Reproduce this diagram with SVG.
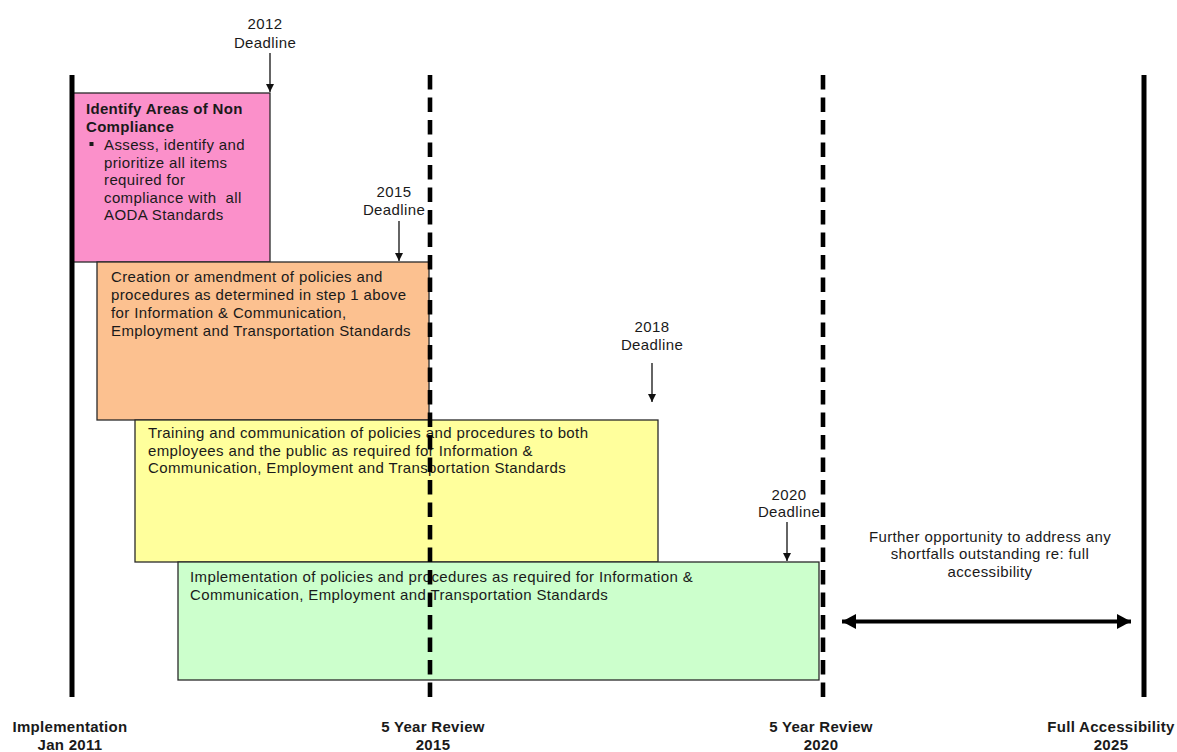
<svg xmlns="http://www.w3.org/2000/svg" width="1177" height="752" viewBox="0 0 1177 752">
<style>
  text { font-family: "Liberation Sans", Arial, sans-serif; font-size: 15px; fill: #1a1a1a; letter-spacing: 0.38px; }
  .b { font-weight: bold; letter-spacing: 0.3px; }
  .c { text-anchor: middle; }
  .box { stroke: #2a2a2a; stroke-width: 1.3; }
  .solid { stroke: #000; stroke-width: 5; fill: none; }
  .dash { stroke: #000; stroke-width: 4.6; stroke-dasharray: 14.5 8; fill: none; }
  .dl { stroke: #111; stroke-width: 1.3; fill: none; }
  .dbl { stroke: #000; stroke-width: 4; fill: none; }
</style>
<defs>
  <marker id="ah" markerUnits="userSpaceOnUse" markerWidth="10" markerHeight="10" refX="8" refY="4" orient="auto">
    <path d="M0,0 L8,4 L0,8 z" fill="#111"/>
  </marker>
  <marker id="big" markerUnits="userSpaceOnUse" markerWidth="18" markerHeight="18" refX="14" refY="7.5" orient="auto-start-reverse">
    <path d="M0,0 L14,7.5 L0,15 z" fill="#000"/>
  </marker>
</defs>
<rect width="1177" height="752" fill="#fff"/>

<g id="step1">
  <rect class="box" x="72" y="93" width="198" height="169" fill="#FB90CA"/>
  <text class="b" x="86" y="114">Identify Areas of Non</text>
  <text class="b" x="86" y="132">Compliance</text>
  <rect x="89.5" y="142" width="4" height="4" fill="#1a1a1a"/>
  <text x="104" y="150">Assess, identify and</text>
  <text x="104" y="167.5">prioritize all items</text>
  <text x="104" y="185">required for</text>
  <text x="104" y="202.5" xml:space="preserve">compliance with  all</text>
  <text x="104" y="220">AODA Standards</text>
</g>

<g id="step2">
  <rect class="box" x="97" y="262" width="332" height="158" fill="#FCC190"/>
  <text x="111" y="282">Creation or amendment of policies and</text>
  <text x="111" y="300">procedures as determined in step 1 above</text>
  <text x="111" y="318">for Information &amp; Communication,</text>
  <text x="111" y="335.5">Employment and Transportation Standards</text>
</g>

<g id="step3">
  <rect class="box" x="135" y="420" width="523" height="142" fill="#FFFF9C"/>
  <text x="148" y="438">Training and communication of policies and procedures to both</text>
  <text x="148" y="455.5">employees and the public as required for Information &amp;</text>
  <text x="148" y="473">Communication, Employment and Transportation Standards</text>
</g>

<g id="step4">
  <rect class="box" x="178" y="562" width="641" height="118" fill="#CCFFCC"/>
  <text x="190" y="582">Implementation of policies and procedures as required for Information &amp;</text>
  <text x="190" y="600">Communication, Employment and Transportation Standards</text>
</g>

<g id="connectors">
  <line class="solid" x1="72" y1="75" x2="72" y2="697"/>
  <line class="dash" x1="430" y1="75" x2="430" y2="697"/>
  <line class="dash" x1="823" y1="75" x2="823" y2="697"/>
  <line class="solid" x1="1144" y1="75" x2="1144" y2="697"/>
  <line class="dl" x1="270" y1="53" x2="270" y2="92" marker-end="url(#ah)"/>
  <line class="dl" x1="399" y1="221" x2="399" y2="261" marker-end="url(#ah)"/>
  <line class="dl" x1="652" y1="363" x2="652" y2="402" marker-end="url(#ah)"/>
  <line class="dl" x1="787" y1="522" x2="787" y2="561" marker-end="url(#ah)"/>
  <line class="dbl" x1="842" y1="621.5" x2="1131" y2="621.5" marker-start="url(#big)" marker-end="url(#big)"/>
</g>

<g id="deadline2012">
  <text class="c" x="265" y="29">2012</text>
  <text class="c" x="265" y="48">Deadline</text>
</g>
<g id="deadline2015">
  <text class="c" x="394" y="197">2015</text>
  <text class="c" x="394" y="215">Deadline</text>
</g>
<g id="deadline2018">
  <text class="c" x="652" y="332">2018</text>
  <text class="c" x="652" y="349.5">Deadline</text>
</g>
<g id="deadline2020">
  <text class="c" x="789" y="500">2020</text>
  <text class="c" x="789" y="517">Deadline</text>
</g>

<g id="further">
  <text class="c" x="990" y="541.5">Further opportunity to address any</text>
  <text class="c" x="990" y="559">shortfalls outstanding re: full</text>
  <text class="c" x="990" y="577">accessibility</text>
</g>

<g id="milestone2011">
  <text class="b c" x="70" y="732">Implementation</text>
  <text class="b c" x="70" y="750">Jan 2011</text>
</g>
<g id="milestone2015">
  <text class="b c" x="433" y="732">5 Year Review</text>
  <text class="b c" x="433" y="750">2015</text>
</g>
<g id="milestone2020">
  <text class="b c" x="821" y="732">5 Year Review</text>
  <text class="b c" x="821" y="750">2020</text>
</g>
<g id="milestone2025">
  <text class="b c" x="1111" y="732">Full Accessibility</text>
  <text class="b c" x="1111" y="750">2025</text>
</g>
</svg>
